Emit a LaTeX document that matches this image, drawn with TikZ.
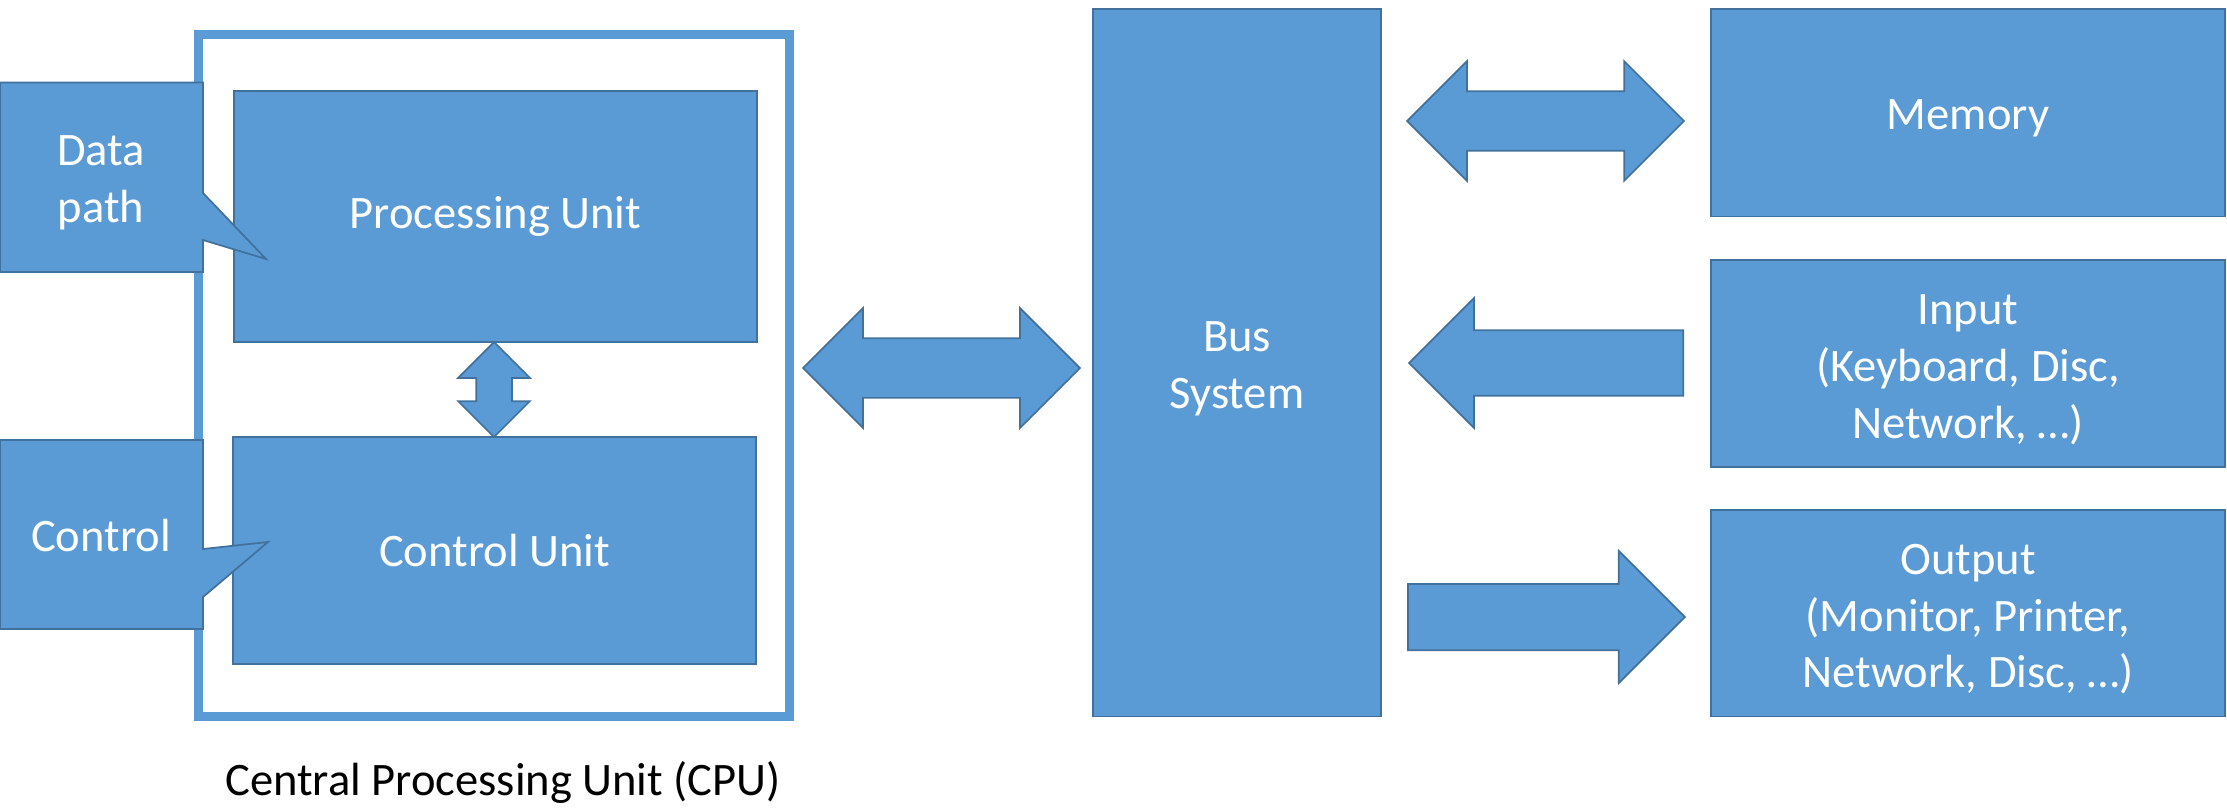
\documentclass[tikz,border=0pt]{standalone}
\usepackage{fontspec}
\setmainfont{Carlito}
\usetikzlibrary{shapes.arrows}
\definecolor{boxblue}{HTML}{5B9BD5}
\definecolor{edgeblue}{HTML}{41719C}
\newcommand{\lift}{\rule{0pt}{0.84cm}}

\begin{document}
\begin{tikzpicture}
  [
    x=0.02cm, y=-0.02cm,
    font=\fontsize{26.5}{32.3}\selectfont,
    blue fill/.style={draw=edgeblue, fill=boxblue, line width=0.035cm},
    main node/.style={blue fill, rectangle, text=white, align=center, inner sep=0pt},
    big arrow/.style={blue fill, double arrow, inner xsep=0pt, inner ysep=0.58cm, double arrow head extend=0.6cm},
    one arrow/.style={blue fill, single arrow, inner xsep=0pt, inner ysep=0.645cm, single arrow head extend=0.66cm}
    ]
  \useasboundingbox (0,0) rectangle (2227,808);

  \node[draw=boxblue, line width=0.18cm, minimum width=11.84cm, minimum height=13.65cm] (1) at (494,375.75) {};
  \node[main node, minimum width=10.46cm, minimum height=5.02cm] (2) at (495.5,216.5) {Processing Unit};
  \node[main node, minimum width=10.46cm, minimum height=4.54cm] (3) at (494.5,550.5) {Control Unit};
  \node[big arrow, rotate=90, minimum height=1.9cm, inner ysep=0.34cm, double arrow head extend=0.36cm] (4) at (494,389.5) {};

  \draw[blue fill] (0,82.5) -- (203,82.5) -- (203,193) -- (266,259) -- (203,240) -- (203,272) -- (0,272) -- cycle;
  \node[text=white, align=center] (5) at (101,183) {Data\\path};
  \draw[blue fill] (0,440) -- (203,440) -- (203,549) -- (268,542) -- (203,597) -- (203,629) -- (0,629) -- cycle;
  \node[text=white] (6) at (101,535) {Control};

  \node (7) at (503,782) {Central Processing Unit (CPU)};

  \node[main node, minimum width=5.76cm, minimum height=14.15cm] (8) at (1237,362.75) {\lift Bus\\System};
  \node[main node, minimum width=10.28cm, minimum height=4.15cm] (9) at (1968,112.75) {\lift Memory};
  \node[main node, minimum width=10.28cm, minimum height=4.14cm] (10) at (1968,363.5) {\lift Input\\(Keyboard, Disc,\\Network, …)};
  \node[main node, minimum width=10.28cm, minimum height=4.13cm] (11) at (1968,613.25) {\lift Output\\(Monitor, Printer,\\Network, Disc, …)};

  \node[big arrow, minimum height=5.54cm] (12) at (941.5,368) {};
  \node[big arrow, minimum height=5.54cm] (13) at (1545.5,121) {};
  \node[one arrow, rotate=180, anchor=tail, minimum height=5.48cm, inner ysep=0.64cm, single arrow head extend=0.64cm] (14) at (1684,363) {};
  \node[one arrow, anchor=tail, minimum height=5.54cm] (15) at (1407,617) {};

\end{tikzpicture}
\end{document}
